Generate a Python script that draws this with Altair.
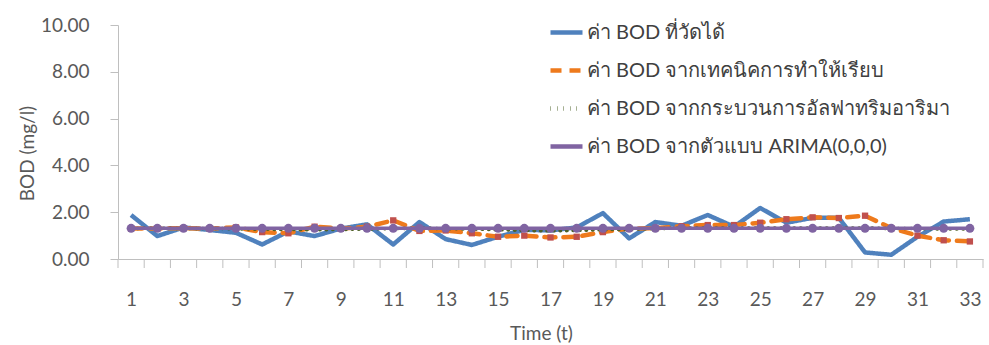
import altair as alt
import pandas as pd

# Time index (t)
time = list(range(1, 34))

# Measured BOD (mg/l)
measured = [1.88, 0.98, 1.35, 1.24, 1.12, 0.62, 1.18, 0.98, 1.30, 1.48, 0.62,
            1.58, 0.85, 0.60, 0.95, 1.25, 1.22, 1.35, 1.96, 0.88, 1.58, 1.42,
            1.88, 1.38, 2.18, 1.55, 1.76, 1.76, 0.28, 0.18, 0.95, 1.60, 1.70]

# BOD from the smoothing technique
smoothing = [1.30, 1.30, 1.32, 1.30, 1.35, 1.15, 1.10, 1.38, 1.30, 1.38, 1.65,
             1.20, 1.22, 1.10, 0.95, 1.00, 0.92, 0.95, 1.15, 1.30, 1.32, 1.40,
             1.45, 1.45, 1.55, 1.70, 1.78, 1.75, 1.85, 1.32, 1.00, 0.80, 0.75]

# BOD from the alpha-trimmed ARIMA procedure
alpha_trim = [1.30, 1.32, 1.30, 1.31, 1.29, 1.27, 1.26, 1.25, 1.26, 1.28, 1.30,
              1.32, 1.30, 1.28, 1.25, 1.22, 1.20, 1.22, 1.25, 1.27, 1.30, 1.32,
              1.33, 1.33, 1.32, 1.33, 1.33, 1.32, 1.33, 1.30, 1.30, 1.28, 1.28]

# BOD from the ARIMA(0,0,0) model
arima = [1.31, 1.31, 1.31, 1.31, 1.31, 1.31, 1.31, 1.31, 1.31, 1.31, 1.31,
         1.31, 1.31, 1.31, 1.31, 1.31, 1.31, 1.31, 1.31, 1.31, 1.31, 1.31,
         1.31, 1.31, 1.31, 1.31, 1.31, 1.31, 1.31, 1.31, 1.31, 1.31, 1.31]

series_names = [
    "ค่า BOD ที่วัดได้",
    "ค่า BOD จากเทคนิคการทำให้เรียบ",
    "ค่า BOD จากกระบวนการอัลฟาทริมอาริมา",
    "ค่า BOD จากตัวแบบ ARIMA(0,0,0)",
]
series_colors = ["#4F81BD", "#EE7A1C", "#4F6228", "#8064A2"]
series_dash = [[1, 0], [11, 8], [0.5, 6], [1, 0]]

x_labels = [t for t in time if t % 2 == 1]
category_bounds = [t - 0.5 for t in time] + [time[-1] + 0.5]

frames = []
for name, vals in zip(series_names, [measured, smoothing, alpha_trim, arima]):
    frames.append(pd.DataFrame({"t": time, "bod": vals, "series": name}))
df = pd.concat(frames, ignore_index=True)
bounds_df = pd.DataFrame({"b": category_bounds})

W, H = 865, 234
FONT = "Lato"
AXIS_GRAY = "#BFBFBF"
TEXT_GRAY = "#595959"

x_scale = alt.Scale(domain=[0.5, 33.5], nice=False, zero=False)
y_scale = alt.Scale(domain=[0, 10], nice=False)

x_enc = alt.X(
    "t:Q", scale=x_scale,
    axis=alt.Axis(values=x_labels, ticks=False, grid=False, title="Time (t)",
                  labelPadding=31, titleX=423, titleY=74, titleBaseline="middle",
                  titleAnchor="start", titleAlign="center"),
)
y_enc = alt.Y(
    "bod:Q", scale=y_scale,
    axis=alt.Axis(values=[0, 2, 4, 6, 8, 10], format=".2f", grid=False,
                  tickSize=8, labelPadding=21, title="BOD (mg/l)",
                  titleX=-91, titleY=128, titleBaseline="middle",
                  titleAlign="center", titleAngle=-90),
)
legend_def = alt.Legend(title=None, orient="none", legendX=430, legendY=-11,
                        symbolType="stroke", symbolSize=1024,
                        symbolStrokeWidth=4.5, rowPadding=9, labelOffset=2)
color_enc = alt.Color(
    "series:N",
    scale=alt.Scale(domain=series_names, range=series_colors),
    legend=legend_def,
)
dash_enc = alt.StrokeDash(
    "series:N",
    scale=alt.Scale(domain=series_names, range=series_dash),
    legend=legend_def,
)

base = alt.Chart(df)


def series_line(name, width, cap="butt"):
    return base.transform_filter(alt.datum.series == name).mark_line(
        strokeWidth=width, strokeCap=cap, strokeJoin="round"
    ).encode(x=x_enc, y=y_enc, color=color_enc, strokeDash=dash_enc)


measured_line = series_line(series_names[0], 4.5)
smoothing_line = series_line(series_names[1], 4.5, cap="round")
smoothing_pts = base.transform_filter(alt.datum.series == series_names[1]).mark_point(
    shape="square", filled=True, opacity=1, size=40, color="#C0504D"
).encode(x=x_enc, y=y_enc)
alpha_line = series_line(series_names[2], 3.5, cap="round")
arima_line = series_line(series_names[3], 3.5)
arima_pts = base.transform_filter(alt.datum.series == series_names[3]).mark_circle(
    opacity=1, size=80, color="#8064A2"
).encode(x=x_enc, y=y_enc)

# tick marks on the category boundaries of the time axis
category_ticks = alt.Chart(bounds_df).mark_rule(color=AXIS_GRAY, strokeWidth=1).encode(
    x=alt.X("b:Q", scale=x_scale),
    y=alt.value(H),
    y2=alt.value(H + 9),
)

chart = alt.layer(
    measured_line, smoothing_line, smoothing_pts,
    alpha_line, arima_line, arima_pts, category_ticks,
).properties(
    width=W, height=H,
    autosize=alt.AutoSizeParams(type="none"),
    padding={"left": 118, "top": 25, "right": 6, "bottom": 86},
).configure_view(
    stroke=None
).configure_axis(
    domainColor=AXIS_GRAY, tickColor=AXIS_GRAY,
    labelFont=FONT, titleFont=FONT, labelFontSize=19, titleFontSize=19,
    labelColor=TEXT_GRAY, titleColor=TEXT_GRAY,
    titleFontWeight="normal",
).configure_legend(
    labelFont=FONT, labelFontSize=20, labelColor="#404040", labelLimit=700,
    padding=0,
)

chart.save("out.html", embed_options={"renderer": "svg", "actions": False})
